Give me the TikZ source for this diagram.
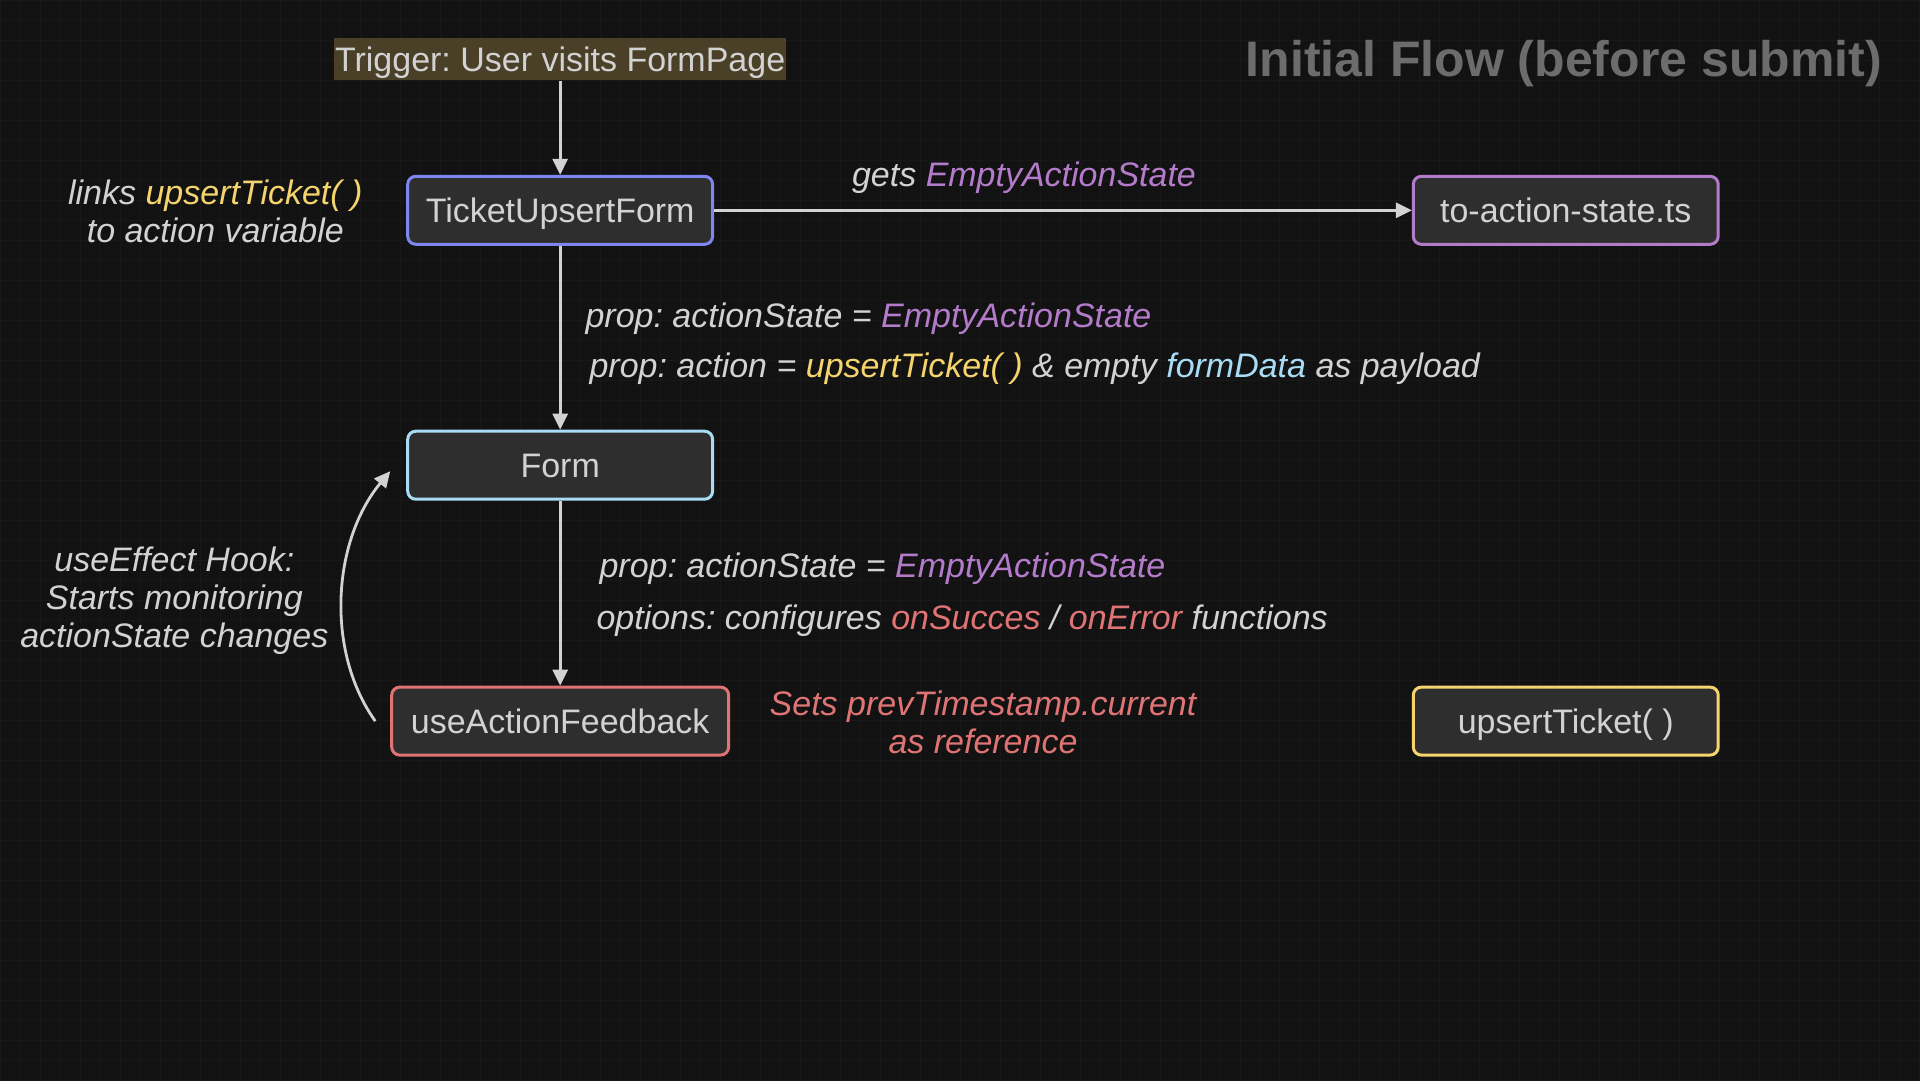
\documentclass[tikz,border=0pt]{standalone}
\usepackage{fontspec}
\setmainfont{Liberation Sans}
\frenchspacing
\usetikzlibrary{arrows.meta, positioning, calc}
\definecolor{bg}{HTML}{121212}
\definecolor{gridc}{HTML}{181818}
\definecolor{boxfill}{HTML}{2E2E2E}
\definecolor{txt}{HTML}{D2D2D2}
\definecolor{violetb}{HTML}{7E86F0}
\definecolor{skyb}{HTML}{A8DCF5}
\definecolor{purp}{HTML}{B57BCB}
\definecolor{redb}{HTML}{E07474}
\definecolor{yel}{HTML}{F5D46E}
\definecolor{trig}{HTML}{4A4027}
\definecolor{ttl}{HTML}{6C6C6C}
\newcommand{\cstate}[1]{\textcolor{purp}{#1}}
\newcommand{\cfun}[1]{\textcolor{yel}{#1}}
\newcommand{\cdata}[1]{\textcolor{skyb}{#1}}
\newcommand{\cerr}[1]{\textcolor{redb}{#1}}

\begin{document}
\begin{tikzpicture}[x=0.5pt, y=-0.5pt,
  comp/.style={draw, line width=1.5pt, rounded corners=4pt, fill=boxfill, text=txt,
    minimum width=152.5pt, minimum height=34pt, text height=12.2pt, text depth=0pt,
    font=\fontsize{17}{20}\selectfont},
  note/.style={text=txt, inner sep=0pt, align=center, font=\fontsize{17}{19}\selectfont\itshape},
  flow/.style={draw=txt, line width=1.4pt, -{Triangle[length=8pt,width=7.5pt]}}]
% 背景
\fill[bg] (0,0) rectangle (1920,1080);
\draw[gridc, line width=0.4pt, step=10pt] (0,0) grid (1920,1080);
\useasboundingbox (0,0) rectangle (1920,1080);

% タイトル
\node[text=ttl, font=\fontsize{25}{30}\selectfont\bfseries] (title) at (1564,63) {Initial Flow (before submit)};

% トリガー
\node[fill=trig, text=txt, inner xsep=0.5pt, minimum height=21pt, text height=12.2pt, text depth=0pt,
  font=\fontsize{17}{20}\selectfont] (trigger) at (560,59) {Trigger: User visits FormPage};

% コンポーネント
\node[comp, draw=violetb] (tuf) at (560,210) {TicketUpsertForm};
\node[comp, draw=purp] (tas) at (1566,210) {to-action-state.ts};
\node[comp, draw=skyb] (form) at (560,465) {Form};
\node[comp, draw=redb, minimum width=168.5pt] (uaf) at (560,721) {useActionFeedback};
\node[comp, draw=yel] (ut) at (1566,721) {upsertTicket( )};

% 矢印
\draw[flow] (trigger) -- (tuf);
\draw[flow] (tuf) -- (tas);
\draw[flow] (tuf) -- (form);
\draw[flow] (form) -- (uaf);
\draw[flow] ([xshift=-7.5pt]uaf.west) .. controls +(-50,-70) and +(-58,70) .. ([xshift=-8pt,yshift=-3pt]form.west);

% ラベル
\node[note] (links) at (215,211) {links \cfun{upsertTicket( )}\\to action variable};
\node[note] (gets) at (1024,177) {gets \cstate{EmptyActionState}};
\node[note, anchor=west] (prop1) at (585,318) {prop: actionState = \cstate{EmptyActionState}};
\node[note, anchor=west] (prop2) at (589,368) {prop: action = \cfun{upsertTicket( )} \& empty \cdata{formData} as payload};
\node[note, anchor=west] (prop3) at (599,569) {prop: actionState = \cstate{EmptyActionState}};
\node[note, anchor=west] (opts) at (596,621) {options: configures \cerr{onSucces} / \cerr{onError} functions};
\node[note, text=redb] (sets) at (983,722) {Sets prevTimestamp.current\\as reference};
\node[note] (hook) at (174,601) {useEffect Hook:\\Starts monitoring\\actionState changes};

\end{tikzpicture}
\end{document}
